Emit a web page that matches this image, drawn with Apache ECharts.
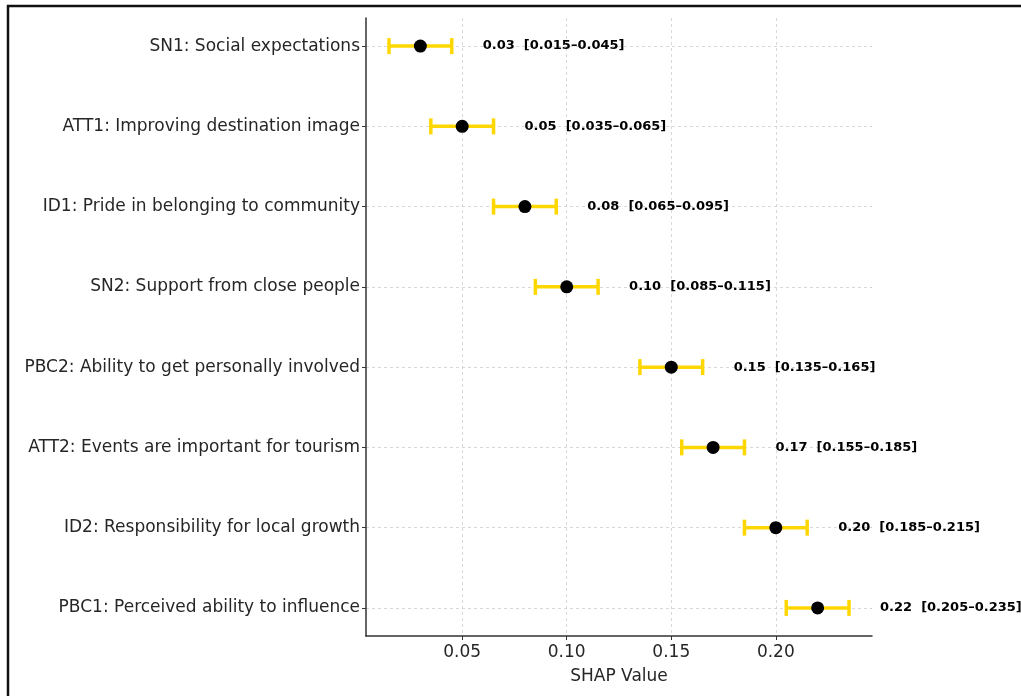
<!DOCTYPE html>
<html>
<head>
<meta charset="utf-8">
<script src="https://cdn.jsdelivr.net/npm/echarts@6/dist/echarts.min.js"></script>
<style>
  html, body { margin: 0; padding: 0; background: #fff; }
  #chart { width: 1021px; height: 696px; }
</style>
</head>
<body>
<div id="chart"></div>
<script>
// Feature names, top to bottom
const categories = [
  "SN1: Social expectations",
  "ATT1: Improving destination image",
  "ID1: Pride in belonging to community",
  "SN2: Support from close people",
  "PBC2: Ability to get personally involved",
  "ATT2: Events are important for tourism",
  "ID2: Responsibility for local growth",
  "PBC1: Perceived ability to influence"
];
const shapValues = [0.03, 0.05, 0.08, 0.10, 0.15, 0.17, 0.20, 0.22];
const ciLow = [0.015, 0.035, 0.065, 0.085, 0.135, 0.155, 0.185, 0.205];
const ciHigh = [0.045, 0.065, 0.095, 0.115, 0.165, 0.185, 0.215, 0.235];
const xTicks = [0.05, 0.10, 0.15, 0.20];

const chart = echarts.init(document.getElementById("chart"), null, { renderer: "canvas" });

const rowIdx = categories.map((c, i) => i);
const barData = categories.map((c, i) => [shapValues[i], i, ciLow[i], ciHigh[i]]);
const pointData = categories.map((c, i) => [shapValues[i], i]);

const gridLine = { show: true, lineStyle: { color: "#cfcfcf", type: [3, 3], width: 0.8 } };

const option = {
  animation: false,
  backgroundColor: "#fff",
  textStyle: { fontFamily: "DejaVu Sans" },
  graphic: [
    {
      type: "rect",
      shape: { x: 8, y: 6, width: 1100, height: 800 },
      style: { fill: "none", stroke: "#111", lineWidth: 2.5 },
      z: 100
    }
  ],
  grid: { left: 366, right: 149, top: 18, bottom: 60 },
  xAxis: {
    type: "value",
    min: 0.004,
    max: 0.246,
    name: "SHAP Value",
    nameLocation: "middle",
    nameGap: 32,
    nameTextStyle: { fontSize: 17, color: "#262626", fontFamily: "DejaVu Sans" },
    axisLine: { show: true, onZero: false, lineStyle: { color: "#333", width: 1.5 } },
    axisTick: { show: true, customValues: xTicks, length: 4, lineStyle: { color: "#333", width: 1 } },
    axisLabel: {
      customValues: xTicks,
      margin: 8,
      fontSize: 17,
      color: "#262626",
      fontFamily: "DejaVu Sans",
      formatter: v => v.toFixed(2)
    },
    splitLine: gridLine
  },
  yAxis: {
    type: "value",
    inverse: true,
    min: -0.35,
    max: 7.35,
    axisLine: { show: true, onZero: false, lineStyle: { color: "#333", width: 1.5 } },
    axisTick: { show: true, customValues: rowIdx, length: 4, lineStyle: { color: "#333", width: 1 } },
    axisLabel: {
      customValues: rowIdx,
      margin: 6,
      fontSize: 17,
      color: "#262626",
      fontFamily: "DejaVu Sans",
      formatter: v => categories[Math.round(v)]
    },
    splitLine: gridLine
  },
  series: [
    {
      name: "CI",
      type: "custom",
      data: barData,
      z: 2,
      renderItem: (params, api) => {
        const y = api.value(1);
        const lo = api.coord([api.value(2), y]);
        const hi = api.coord([api.value(3), y]);
        const cap = 8;
        const val = api.value(0);
        const txt = val.toFixed(2) + "  [" + api.value(2).toFixed(3) + "\u2013" + api.value(3).toFixed(3) + "]";
        const style = { stroke: "#FFD700", lineWidth: 3.5 };
        return {
          type: "group",
          children: [
            { type: "line", shape: { x1: lo[0], y1: lo[1], x2: hi[0], y2: hi[1] }, style },
            { type: "line", shape: { x1: lo[0], y1: lo[1] - cap, x2: lo[0], y2: lo[1] + cap }, style },
            { type: "line", shape: { x1: hi[0], y1: hi[1] - cap, x2: hi[0], y2: hi[1] + cap }, style },
            {
              type: "text",
              style: {
                x: hi[0] + 31,
                y: hi[1],
                text: txt,
                fill: "#000",
                font: "bold 13px 'DejaVu Sans'",
                verticalAlign: "middle",
                align: "left"
              }
            }
          ]
        };
      }
    },
    {
      name: "SHAP",
      type: "scatter",
      data: pointData,
      symbol: "circle",
      symbolSize: 13,
      itemStyle: { color: "#000", opacity: 1 },
      z: 3
    }
  ]
};

chart.setOption(option);
</script>
</body>
</html>
